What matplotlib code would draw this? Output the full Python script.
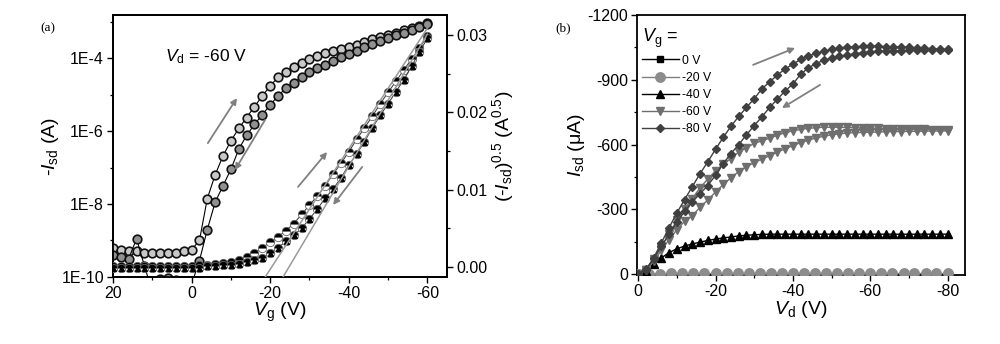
import numpy as np
import matplotlib
matplotlib.use("Agg")
import matplotlib.pyplot as plt
from matplotlib.ticker import FixedLocator, MultipleLocator, FuncFormatter, NullFormatter

plt.rcParams['font.family'] = ['Liberation Sans', 'DejaVu Sans']
plt.rcParams['mathtext.fontset'] = 'custom'
plt.rcParams['mathtext.rm'] = 'Liberation Sans'
plt.rcParams['mathtext.it'] = 'Liberation Sans:italic'
plt.rcParams['axes.unicode_minus'] = False

# ---------------- Panel (a) data ----------------
vg = [20, 18, 16, 14, 12, 10, 8, 6, 4, 2, 0, -2, -4, -6, -8, -10, -12, -14, -16, -18, -20,
      -22, -24, -26, -28, -30, -32, -34, -36, -38, -40, -42, -44, -46, -48, -50, -52, -54,
      -56, -58, -60]
# log10(-Isd / A), forward sweep (20 -> -60 V)
log_isd_fwd = [-9.20, -9.25, -9.30, -9.30, -9.33, -9.33, -9.33, -9.33, -9.33, -9.30, -9.25,
               -9.00, -7.85, -7.20, -6.68, -6.27, -5.93, -5.63, -5.33, -5.04, -4.76,
               -4.53, -4.37, -4.24, -4.13, -4.02, -3.94, -3.87, -3.81, -3.75, -3.69,
               -3.63, -3.56, -3.49, -3.43, -3.36, -3.30, -3.24, -3.17, -3.11, -3.04]
# log10(-Isd / A), reverse sweep (-60 -> 20 V)
log_isd_rev = [-9.40, -9.45, -9.50, -8.95, -9.70, -10.40, -10.05, -10.03, -10.08, -10.30, -10.20,
               -9.55, -8.70, -7.95, -7.50, -7.05, -6.50, -6.12, -5.82, -5.55, -5.29,
               -5.03, -4.83, -4.67, -4.52, -4.39, -4.28, -4.18, -4.08, -3.98, -3.89,
               -3.80, -3.71, -3.62, -3.54, -3.46, -3.38, -3.30, -3.22, -3.14, -3.06]
# (-Isd)^0.5 in A^0.5
sqrt_isd_fwd = [0.00015, 0.00015, 0.00015, 0.00015, 0.00015, 0.00015, 0.00015, 0.00015, 0.00015,
                0.00015, 0.00015, 0.0002, 0.00025, 0.00035, 0.0005, 0.0007, 0.00095, 0.0013,
                0.0018, 0.0025, 0.0032, 0.0039, 0.0047, 0.0056, 0.0068, 0.0080, 0.0092, 0.0105,
                0.0120, 0.0134, 0.0149, 0.0165, 0.0180, 0.0195, 0.0211, 0.0226, 0.0240, 0.0255,
                0.0269, 0.0283, 0.0299]
sqrt_isd_rev = [-0.0002, -0.0002, -0.0002, -0.0002, -0.0002, -0.0002, -0.0002, -0.0002, -0.0002,
                -0.0002, -0.0002, -0.0001, 0.0001, 0.00015, 0.0002, 0.0003, 0.0004, 0.0006,
                0.00085, 0.0012, 0.0018, 0.0025, 0.0033, 0.0041, 0.0050, 0.0062, 0.0075, 0.0089,
                0.0101, 0.0115, 0.0132, 0.0146, 0.0162, 0.0180, 0.0196, 0.0211, 0.0227, 0.0242,
                0.0260, 0.0278, 0.0296]
# linear fits: threshold voltage (V) and slope (A^0.5 / V)
fit_vth = [-20.4, -24.8]
fit_slope = [-0.00078, -0.000856]

# ---------------- Panel (b) data ----------------
vd = [0, -2, -4, -6, -8, -10, -12, -14, -16, -18, -20, -22, -24, -26, -28, -30, -32, -34, -36,
      -38, -40, -42, -44, -46, -48, -50, -52, -54, -56, -58, -60, -62, -64, -66, -68, -70, -72,
      -74, -76, -78, -80]
vd_low = [0, -2.9, -5.7, -8.6, -11.4, -14.3, -17.1, -20, -22.9, -25.7, -28.6, -31.4, -34.3,
          -37.1, -40, -42.9, -45.7, -48.6, -51.4, -54.3, -57.1, -60, -62.9, -65.7, -68.6, -71.4,
          -74.3, -77.1, -80]
isd_0 = [0, 0, 0, 0, 0, 0, 0, 0, 0, 0, 0, 0, 0, 0, 0, 0, 0, 0, 0, 0, 0, 0, 0, 0, 0, 0, 0, 0, 0]
isd_20 = [-1, -2, -2, -3, -3, -3, -3, -3, -3, -3, -3, -3, -3, -3, -3, -3, -3, -3, -3, -3, -3,
          -3, -3, -3, -3, -3, -3, -3, -3]
isd_40 = [0, -15, -48, -75, -100, -117, -130, -140, -148, -156, -162, -168, -172, -177, -180,
          -182, -184, -185, -185, -185, -185, -185, -185, -185, -185, -185, -185, -185, -185,
          -185, -185, -185, -185, -185, -185, -185, -185, -185, -185, -185, -185]
isd_60_fwd = [0, -20, -70, -125, -185, -250, -300, -350, -400, -440, -478, -510, -535, -565, -585,
              -605, -617, -630, -643, -655, -663, -670, -675, -678, -680, -680, -680, -679, -678,
              -677, -676, -675, -674, -673, -672, -671, -670, -670, -669, -669, -668]
isd_60_rev = [0, -18, -60, -110, -160, -205, -245, -270, -310, -343, -380, -415, -446, -475, -498,
              -516, -533, -548, -565, -580, -595, -609, -620, -631, -638, -645, -650, -653, -655,
              -656, -657, -658, -659, -660, -660, -661, -661, -662, -662, -663, -663]
isd_80_fwd = [0, -20, -75, -145, -215, -283, -345, -405, -465, -520, -578, -633, -685, -730, -772,
              -812, -858, -890, -922, -950, -972, -994, -1010, -1022, -1032, -1040, -1047, -1050,
              -1052, -1054, -1055, -1054, -1053, -1052, -1051, -1050, -1048, -1046, -1044, -1042,
              -1040]
isd_80_rev = [0, -22, -70, -130, -185, -240, -290, -335, -372, -410, -458, -512, -558, -600, -645,
              -688, -728, -772, -810, -848, -880, -925, -955, -975, -990, -1000, -1008, -1015,
              -1020, -1025, -1028, -1031, -1033, -1034, -1035, -1036, -1037, -1037, -1038, -1038,
              -1039]
legend_labels = ['0 V', '-20 V', '-40 V', '-60 V', '-80 V']

# ---------------- Figure ----------------
fig = plt.figure(figsize=(10, 3.44), dpi=100)
axa = fig.add_axes([0.113, 0.1948, 0.334, 0.7616])
axb = fig.add_axes([0.637, 0.2006, 0.328, 0.756])

spine_w = 1.3
tick_fs = 11.5
label_fs = 14

# Panel (a) left (log)
vg_arr = np.array(vg)
axa.plot(vg_arr, 10 ** np.array(log_isd_fwd), '-', color='black', lw=0.8, marker='o', ms=6.2,
         mfc='#c8c8c8', mec='#111111', mew=1.2, zorder=3)
axa.plot(vg_arr, 10 ** np.array(log_isd_rev), '-', color='black', lw=0.8, marker='o', ms=6.2,
         mfc='#909090', mec='#111111', mew=1.2, zorder=3)
axa.set_yscale('log')
axa.set_xlim(20, -65)
axa.set_ylim(1e-10, 10 ** -2.82)
axa.yaxis.set_major_locator(FixedLocator([1e-10, 1e-8, 1e-6, 1e-4]))
axa.yaxis.set_major_formatter(FuncFormatter(lambda v, p: '1E%d' % int(round(np.log10(v)))))
axa.yaxis.set_minor_locator(FixedLocator([1e-9, 1e-7, 1e-5, 1e-3]))
axa.yaxis.set_minor_formatter(NullFormatter())
axa.xaxis.set_major_locator(FixedLocator([20, 0, -20, -40, -60]))
axa.xaxis.set_minor_locator(FixedLocator([10, -10, -30, -50]))
axa.set_xlabel(r'$V_{\mathrm{g}}$ (V)', fontsize=label_fs, labelpad=0)
axa.set_ylabel(r'-$I_{\mathrm{sd}}$ (A)', fontsize=label_fs, labelpad=0)
axa.text(0.156, 0.84, r'$V_{\mathrm{d}}$ = -60 V', transform=axa.transAxes, fontsize=12.5,
         ha='left', va='center')

# Panel (a) right (sqrt)
ax2 = axa.twinx()
ax2.plot(vg_arr, sqrt_isd_fwd, '-', color='#333333', lw=0.7, marker='o', ms=6.0,
         fillstyle='top', mfc='black', mfcalt='white', mec='#666666', mew=0.6, zorder=3)
ax2.plot(vg_arr, sqrt_isd_rev, '-', color='#333333', lw=0.7, marker='o', ms=6.0,
         fillstyle='top', mfc='black', mfcalt='white', mec='#666666', mew=0.6, zorder=3)
ax2.plot(vg_arr, sqrt_isd_rev, 'none', marker='^', ms=3.6, mfc='black', mec='black', zorder=4)
ax2.set_ylim(-0.0013, 0.0326)
for vth, sl in zip(fit_vth, fit_slope):
    xs = np.array([vth + 2.2, -60])
    ax2.plot(xs, sl * (xs - vth), '-', color='#999999', lw=1.1, zorder=5)
ax2.yaxis.set_major_locator(MultipleLocator(0.01))
ax2.yaxis.set_minor_locator(MultipleLocator(0.005))
ax2.yaxis.set_major_formatter(FuncFormatter(lambda v, p: '%.2f' % v))
ax2.set_ylabel(r'(-$I_{\mathrm{sd}}$)$^{0.5}$ (A$^{0.5}$)', fontsize=label_fs, labelpad=2)

arrow_kw = dict(arrowstyle='-|>', color='#808080', lw=1.3, mutation_scale=9, shrinkA=0, shrinkB=0)
for (x0, y0), (x1, y1) in [((0.284, 0.511), (0.371, 0.683)),
                           ((0.455, 0.599), (0.365, 0.408)),
                           ((0.554, 0.344), (0.641, 0.477)),
                           ((0.746, 0.420), (0.659, 0.275))]:
    ax2.annotate('', xy=(x1, y1), xytext=(x0, y0), xycoords='axes fraction',
                 textcoords='axes fraction', arrowprops=arrow_kw, zorder=6)

for ax in (axa, ax2, axb):
    for s in ax.spines.values():
        s.set_linewidth(spine_w)
    ax.tick_params(which='major', direction='out', length=4, width=1.0, labelsize=tick_fs, pad=2.5)
    ax.tick_params(which='minor', direction='out', length=2.5, width=0.9)

# Panel (b)
vd_arr = np.array(vd)
axb.plot(vd_low, isd_0, '-', color='black', lw=1.0, marker='s', ms=5, mfc='black', mec='black',
         label=legend_labels[0], zorder=2)
axb.plot(vd_low, isd_20, '-', color='#808080', lw=1.0, marker='o', ms=6.8, mfc='#8c8c8c',
         mec='#8c8c8c', label=legend_labels[1], zorder=3)
axb.plot(vd_arr, isd_40, '-', color='black', lw=1.0, marker='^', ms=5.2, mfc='black', mec='black',
         label=legend_labels[2], zorder=3)
axb.plot(vd_arr, isd_60_fwd, '-', color='#6e6e6e', lw=1.0, marker='v', ms=5.2, mfc='#6e6e6e',
         mec='#6e6e6e', label=legend_labels[3], zorder=3)
axb.plot(vd_arr, isd_60_rev, '-', color='#6e6e6e', lw=1.0, marker='v', ms=5.2, mfc='#6e6e6e',
         mec='#6e6e6e', zorder=3)
axb.plot(vd_arr, isd_80_fwd, '-', color='#404040', lw=1.0, marker='D', ms=4.2, mfc='#404040',
         mec='#404040', label=legend_labels[4], zorder=3)
axb.plot(vd_arr, isd_80_rev, '-', color='#404040', lw=1.0, marker='D', ms=4.2, mfc='#404040',
         mec='#404040', zorder=3)
axb.set_xlim(0.3, -84.5)
axb.set_ylim(4, -1200)
axb.yaxis.set_major_locator(MultipleLocator(300))
axb.yaxis.set_minor_locator(MultipleLocator(150))
axb.xaxis.set_major_locator(MultipleLocator(20))
axb.xaxis.set_minor_locator(MultipleLocator(10))
axb.set_xlabel(r'$V_{\mathrm{d}}$ (V)', fontsize=label_fs, labelpad=0)
axb.set_ylabel(r'$I_{\mathrm{sd}}$ (μA)', fontsize=label_fs, labelpad=0)
leg = axb.legend(loc='upper left', bbox_to_anchor=(0.0, 0.975), frameon=False, fontsize=8.8,
                 title=r'$V_{\mathrm{g}}$ =', title_fontsize=13, handlelength=3.0,
                 handletextpad=0.25, labelspacing=0.42, borderaxespad=0.2, alignment='left',
                 numpoints=1, borderpad=0.2)
for (x0, y0), (x1, y1) in [((0.354, 0.808), (0.482, 0.873)),
                           ((0.558, 0.731), (0.442, 0.642))]:
    axb.annotate('', xy=(x1, y1), xytext=(x0, y0), xycoords='axes fraction',
                 textcoords='axes fraction', arrowprops=arrow_kw, zorder=6)

fig.text(0.040, 0.918, '(a)', fontsize=9.5, family='Liberation Serif', ha='left', va='center')
fig.text(0.555, 0.918, '(b)', fontsize=9.5, family='Liberation Serif', ha='left', va='center')

fig.savefig('out.png', dpi=100)
